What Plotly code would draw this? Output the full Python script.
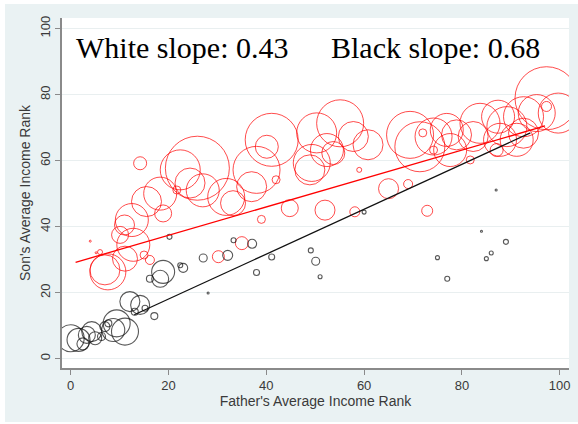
import plotly.graph_objects as go

# red bubbles: father's rank, son's rank, marker diameter
red_x = [7.6, 7.0, 11.1, 12.8, 10.1, 15.0, 16.2, 6.0, 4.0, 5.2, 12.5, 11.0, 14.2, 15.5, 18.9,
         18.3, 21.7, 22.4, 24.4, 25.9, 27.0, 31.8, 33.2, 38.0, 37.0, 41.1, 40.1, 42.0, 49.3, 50.3,
         48.9, 44.8, 52.0, 39.0, 55.1, 57.8, 52.4, 53.7, 60.8, 59.0, 69.4, 71.4, 74.2, 76.9, 77.6,
         74.2, 72.0, 65.0, 69.0, 58.1, 72.9, 97.3, 99.7, 95.3, 92.6, 89.2, 87.4, 83.7, 87.8, 82.3,
         78.9, 92.6, 91.2, 97.3, 81.7, 87.1, 35.0, 30.2]
red_y = [26.3, 26.9, 30.3, 34.5, 37.5, 31.4, 29.9, 32.3, 35.6, 32.1, 42.0, 40.5, 59.2, 47.6, 44.0,
         50.0, 51.1, 57.2, 53.2, 57.7, 51.0, 49.0, 47.1, 57.2, 52.1, 66.3, 64.2, 54.2, 59.3, 68.4,
         57.2, 45.6, 45.0, 42.2, 71.3, 67.3, 63.2, 62.3, 64.8, 57.2, 67.8, 64.2, 67.3, 69.3, 63.2,
         63.2, 68.4, 51.5, 52.9, 44.5, 44.8, 78.9, 74.4, 74.4, 73.3, 70.3, 73.3, 71.3, 66.3, 67.3,
         67.8, 68.3, 66.3, 76.4, 60.2, 63.2, 35.0, 30.9]
red_size = [36, 30, 25, 33, 17, 8, 9, 5, 2, 2, 33, 20, 13, 30, 17,
            33, 8, 40, 30, 64, 33, 37, 25, 47, 30, 53, 23, 8, 37, 40,
            30, 17, 20, 8, 47, 30, 33, 23, 30, 5, 47, 50, 37, 33, 33,
            8, 8, 20, 9, 10, 11, 63, 40, 37, 40, 40, 33, 40, 33, 30,
            30, 30, 33, 10, 8, 13, 13, 12]

# black bubbles
black_x = [0.0, 1.6, 3.3, 5.0, 4.3, 6.3, 7.0, 9.4, 8.7, 11.1, 7.7, 12.1, 14.2, 13.1, 15.2,
           17.1, 18.9, 18.3, 16.2, 20.2, 22.4, 23.0, 27.1, 28.1, 32.1, 33.3, 37.1, 38.0, 41.1, 49.1,
           50.1, 51.0, 60.0, 75.0, 77.0, 84.0, 85.0, 86.0, 89.0, 87.0, 2.5]
black_y = [6.2, 5.7, 7.2, 6.2, 8.2, 6.7, 9.7, 10.7, 8.7, 8.2, 10.7, 17.3, 16.3, 14.2, 15.3,
           12.9, 26.3, 24.2, 24.2, 36.9, 28.3, 27.5, 30.5, 19.9, 31.3, 35.9, 34.8, 26.1, 30.8, 32.8,
           29.5, 24.8, 44.4, 30.6, 24.2, 38.6, 30.3, 32.0, 35.4, 51.1, 4.5]
black_size = [27, 23, 17, 13, 20, 8, 10, 27, 23, 27, 7, 20, 19, 7, 6,
              7, 23, 17, 7, 5, 5, 9, 8, 2, 10, 5, 9, 6, 6, 5,
              8, 4, 4, 4, 5, 2, 4, 4, 5, 2, 12]

# fitted lines (end points)
red_fit_x = [1, 97]
red_fit_y = [29.2, 70.5]
black_fit_x = [13, 94]
black_fit_y = [13.3, 68.4]

ticks = [0, 20, 40, 60, 80, 100]

fig = go.Figure()

fig.add_trace(go.Scatter(
    x=red_x, y=red_y, mode="markers",
    marker=dict(symbol="circle-open", size=red_size, color="#ff0000", line=dict(width=1.0)),
))
fig.add_trace(go.Scatter(
    x=black_x, y=black_y, mode="markers",
    marker=dict(symbol="circle-open", size=black_size, color="#111111", line=dict(width=1.1)),
))
fig.add_trace(go.Scatter(x=red_fit_x, y=red_fit_y, mode="lines",
                         line=dict(color="#ff0000", width=1.3)))
fig.add_trace(go.Scatter(x=black_fit_x, y=black_fit_y, mode="lines",
                         line=dict(color="#111111", width=1.3)))

W, H = 578, 424
L, R, T, B = 62, 9, 18, 56
pw, ph = W - L - R, H - T - B


def px_x(p):
    return (p - L) / pw


def px_y(p):
    return (H - B - p) / ph


# white strips round the light outer panel (outside the plot region)
for x0, x1, y0, y1 in [(0, 5, 0, H), (0, W, 0, 4), (0, W, 422, H)]:
    fig.add_shape(type="rect", xref="paper", yref="paper", layer="below",
                  x0=px_x(x0), x1=px_x(x1), y0=px_y(y1), y1=px_y(y0),
                  fillcolor="white", line=dict(width=0))

serif = "Liberation Serif, Times New Roman, serif"
fig.add_annotation(text="White slope: 0.43", xref="paper", yref="paper",
                   x=px_x(74), y=px_y(47), xanchor="left", yanchor="middle",
                   showarrow=False, font=dict(family=serif, size=30, color="black"))
fig.add_annotation(text="Black slope: 0.68", xref="paper", yref="paper",
                   x=px_x(329), y=px_y(47), xanchor="left", yanchor="middle",
                   showarrow=False, font=dict(family=serif, size=30, color="black"))

axis_common = dict(
    showline=True, linecolor="#8a8a8a", linewidth=1.5,
    ticks="outside", ticklen=5, tickcolor="#8a8a8a", tickwidth=1.3,
    tickvals=ticks, tickfont=dict(size=13, color="#3a3a3a"),
    zeroline=False, automargin=False,
)

fig.update_layout(
    width=W, height=H,
    margin=dict(l=L, r=R, t=T, b=B),
    paper_bgcolor="#eaf2f3",
    plot_bgcolor="white",
    showlegend=False,
    font=dict(family="Liberation Sans, Arial, sans-serif", color="#3a3a3a"),
    xaxis=dict(range=[-1.78, 101.9], showgrid=False,
               title=dict(text="Father's Average Income Rank", font=dict(size=14), standoff=2),
               **axis_common),
    yaxis=dict(range=[-2.82, 103.2], showgrid=True, gridcolor="#e9eff0", gridwidth=1,
               tickangle=-90,
               title=dict(text="Son's Average Income Rank", font=dict(size=14), standoff=4),
               **axis_common),
)

fig.write_html("out.html", config={"displayModeBar": False},
               post_script="document.body.style.margin='0px';")
